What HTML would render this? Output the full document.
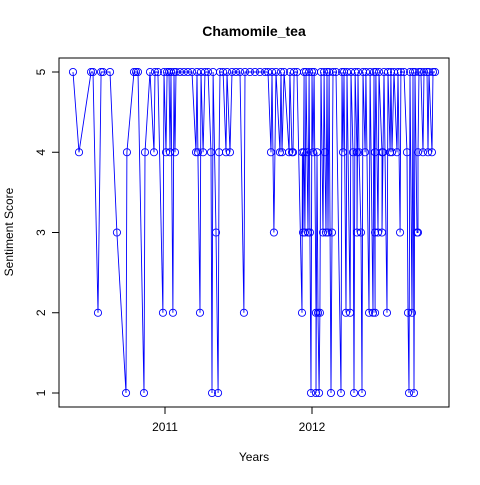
<!DOCTYPE html>
<html><head><meta charset="utf-8"><style>
body{margin:0;background:#fff}
svg text{font-family:"Liberation Sans",sans-serif}
</style></head><body>
<svg id="chart" width="480" height="480">
<rect width="480" height="480" fill="#fff"/>
<text x="254" y="36" text-anchor="middle" font-size="14" font-weight="bold">Chamomile_tea</text>
<rect x="59" y="58" width="390" height="349" fill="none" stroke="#000"/>
<text x="254" y="461" text-anchor="middle" font-size="12">Years</text>
<text x="13" y="232" text-anchor="middle" font-size="12" transform="rotate(-90 13 232)">Sentiment Score</text>
<g id="axes"></g>
<g id="marks"></g>
</svg>
<script>
const years=[2010.374,2010.415,2010.497,2010.510,2010.544,2010.565,2010.578,2010.626,2010.673,2010.735,2010.741,2010.789,2010.803,2010.816,2010.857,2010.864,2010.898,2010.925,2010.932,2010.952,2010.986,2010.993,2011.007,2011.014,2011.027,2011.034,2011.041,2011.054,2011.061,2011.068,2011.075,2011.102,2011.129,2011.156,2011.184,2011.211,2011.218,2011.224,2011.238,2011.245,2011.259,2011.272,2011.293,2011.313,2011.320,2011.327,2011.347,2011.361,2011.368,2011.374,2011.395,2011.415,2011.422,2011.442,2011.456,2011.483,2011.510,2011.537,2011.544,2011.578,2011.612,2011.646,2011.680,2011.701,2011.721,2011.728,2011.741,2011.755,2011.782,2011.789,2011.796,2011.810,2011.844,2011.850,2011.864,2011.871,2011.878,2011.898,2011.932,2011.935,2011.939,2011.946,2011.946,2011.952,2011.959,2011.966,2011.973,2011.980,2011.986,2011.993,2012.000,2012.007,2012.014,2012.027,2012.027,2012.034,2012.041,2012.048,2012.054,2012.061,2012.075,2012.082,2012.088,2012.095,2012.102,2012.109,2012.116,2012.129,2012.136,2012.143,2012.163,2012.197,2012.204,2012.211,2012.218,2012.231,2012.238,2012.259,2012.265,2012.279,2012.286,2012.293,2012.306,2012.306,2012.313,2012.320,2012.333,2012.340,2012.347,2012.361,2012.367,2012.388,2012.395,2012.415,2012.422,2012.429,2012.429,2012.429,2012.435,2012.449,2012.456,2012.476,2012.476,2012.483,2012.490,2012.510,2012.517,2012.531,2012.537,2012.544,2012.558,2012.578,2012.585,2012.599,2012.605,2012.626,2012.646,2012.653,2012.660,2012.667,2012.680,2012.687,2012.694,2012.701,2012.714,2012.721,2012.721,2012.728,2012.741,2012.755,2012.762,2012.782,2012.789,2012.796,2012.816,2012.823,2012.837];
const scores=[5,4,5,5,2,5,5,5,3,1,4,5,5,5,1,4,5,4,5,5,2,5,4,5,5,4,5,2,5,4,5,5,5,5,5,4,5,4,2,5,4,5,5,4,1,5,3,1,4,5,5,4,5,4,5,5,5,2,5,5,5,5,5,5,4,5,3,5,4,5,4,5,4,5,4,4,5,5,2,4,3,5,4,3,5,4,3,5,3,1,5,4,5,2,1,4,2,1,2,5,3,5,4,3,5,3,5,1,3,5,5,1,5,4,5,2,5,2,5,4,1,5,4,3,5,4,3,1,5,4,5,2,5,2,5,2,3,4,5,3,5,4,3,4,5,2,5,4,5,4,5,4,5,3,5,5,4,2,1,5,2,5,1,5,3,3,4,5,5,4,5,5,4,5,4,5,5];
const yTicks=[1,2,3,4,5];
const xTicks=[2011,2012];
const xTickLabels=["2011","2012"];
const NS="http://www.w3.org/2000/svg";
const xs=v=>165+(v-2011)*147;
const ys=v=>393-(v-1)*80.25;
const axes=document.getElementById('axes'),marks=document.getElementById('marks');
function mk(t,a,p){const e=document.createElementNS(NS,t);for(const k in a)e.setAttribute(k,a[k]);p.appendChild(e);return e;}
yTicks.forEach(v=>{
 const l=mk('line',{x1:59,x2:52,y1:ys(v),y2:ys(v),stroke:'#000'},axes);
 
 
 const t=mk('text',{x:45,y:ys(v),'font-size':12,'text-anchor':'middle',transform:`rotate(-90 45 ${ys(v)})`},axes);
 t.textContent=v;
 
 
});
xTicks.forEach((v,i)=>{
 const l=mk('line',{x1:xs(v),x2:xs(v),y1:407,y2:414,stroke:'#000'},axes);
 
 
 const t=mk('text',{x:xs(v),y:431,'font-size':12,'text-anchor':'middle'},axes);
 t.textContent=xTickLabels[i];
 
 
});
const pts=years.map((y,i)=>xs(y).toFixed(1)+','+ys(scores[i]).toFixed(1)).join(' ');
const pl=mk('polyline',{points:pts,fill:'none',stroke:'#0000ff','stroke-width':0.9},marks);


years.forEach((y,i)=>{
 const c=mk('circle',{cx:xs(y),cy:ys(scores[i]),r:3.6,fill:'none',stroke:'#0000ff','stroke-width':0.9},marks);
 
 
});
</script>
</body></html>
